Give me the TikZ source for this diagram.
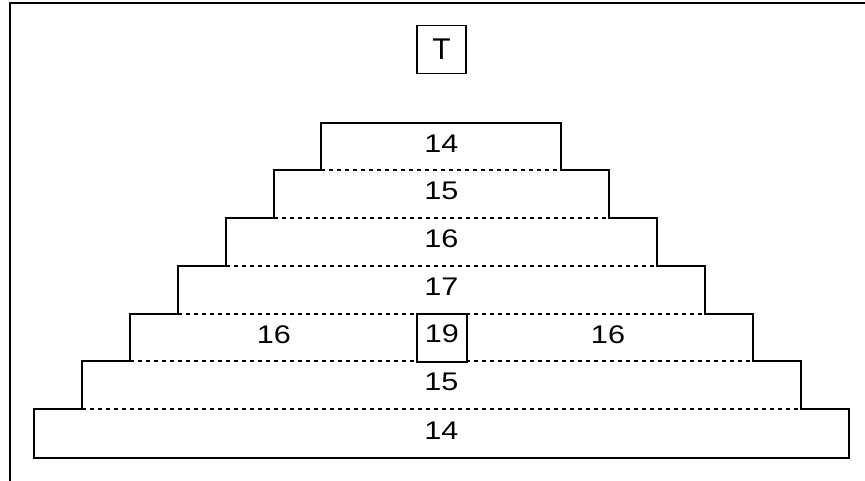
\documentclass[tikz,border=0pt]{standalone}
\usepackage{fontspec}
\setmainfont{Liberation Sans}
\newfontfamily\widefont[FakeStretch=1.2]{Liberation Sans}
\begin{document}
\begin{tikzpicture}[x=1pt,y=-1pt,
  solidline/.style={line width=2.1pt,line join=miter},
  dashline/.style={line width=1.5pt,dash pattern=on 4pt off 4pt},
  lab/.style={inner sep=0pt,font=\widefont\fontsize{25.5}{30}\selectfont},
  boxed/.style={draw,line width=1.9pt,inner sep=0pt,minimum width=49pt,minimum height=48pt}]
\useasboundingbox (0,0) rectangle (865,480);
% frame
\draw[line width=2.3pt] (10,490) -- (10,3) -- (875,3);
% pyramid outline
\draw[solidline] (34,458) -- (34,409) -- (82,409) -- (82,361) -- (130,361) -- (130,314)
  -- (178,314) -- (178,266) -- (226,266) -- (226,218) -- (274,218) -- (274,170)
  -- (321,170) -- (321,123) -- (561,123) -- (561,170) -- (609,170) -- (609,218)
  -- (657,218) -- (657,266) -- (705,266) -- (705,314) -- (753,314) -- (753,361)
  -- (801,361) -- (801,409) -- (849,409) -- (849,458) -- cycle;
% dashed separators
\draw[dashline] (321,170) -- (561,170);
\draw[dashline] (274,218) -- (609,218);
\draw[dashline] (226,266) -- (657,266);
\draw[dashline] (178,314) -- (705,314);
\draw[dashline] (130,361) -- (753,361);
\draw[dashline] (82,409) -- (801,409);
% labels
\node[boxed,font=\fontsize{30}{34}\selectfont] (t) at (441.5,49.5) {T};
\node[lab] (r1) at (441.5,143.5) {14};
\node[lab] (r2) at (441.5,191) {15};
\node[lab] (r3) at (441.5,239) {16};
\node[lab] (r4) at (441.5,287) {17};
\node[boxed,minimum width=50pt,minimum height=48pt,fill=white] (r5box) at (442,338) {};
\node[lab] (r5c) at (442,334) {19};
\node[lab] (r5l) at (274,334.5) {16};
\node[lab] (r5r) at (608,334.5) {16};
\node[lab] (r6) at (441.5,382) {15};
\node[lab] (r7) at (441.5,430.5) {14};
\end{tikzpicture}
\end{document}
